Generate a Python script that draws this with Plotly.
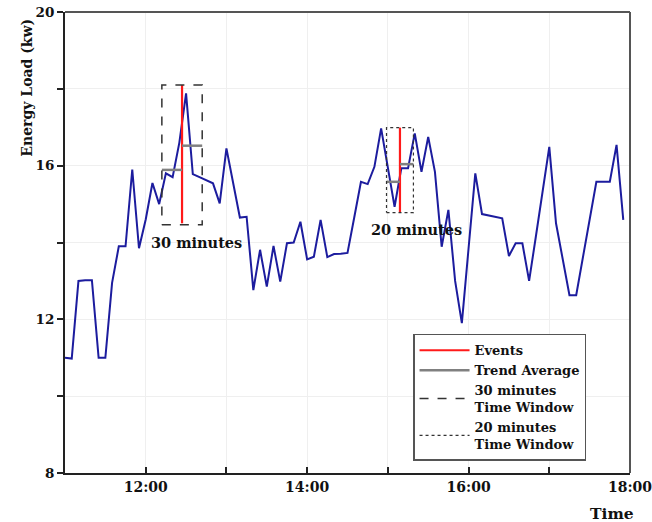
import pandas as pd
import plotly.graph_objects as go

# ---- data ----
start_time = "2020-01-01 11:00"
load_kw = [11.0, 10.98, 13.0, 13.02, 13.02, 11.0, 11.0, 12.95, 13.9, 13.9,
           15.9, 13.85, 14.6, 15.55, 15.0, 15.8, 15.7, 16.6, 17.88, 15.78,
           15.7, 15.62, 15.54, 15.02, 16.45, 15.55, 14.65, 14.67, 12.76, 13.81,
           12.85, 13.91, 12.98, 13.98, 14.0, 14.54, 13.56, 13.63, 14.59, 13.62,
           13.7, 13.71, 13.73, 14.65, 15.58, 15.52, 15.97, 16.97, 15.95, 14.93,
           15.93, 15.93, 16.84, 15.84, 16.75, 15.84, 13.89, 14.85, 13.0, 11.9,
           13.85, 15.8, 14.74, 14.7, 14.67, 14.63, 13.65, 13.98, 13.98, 13.0,
           14.15, 15.3, 16.49, 14.5, 13.6, 12.63, 12.63, 13.6, 14.6, 15.58,
           15.58, 15.58, 16.54, 14.59]
times = pd.date_range(start_time, periods=len(load_kw), freq="5min")

event_times = ["2020-01-01 12:27", "2020-01-01 15:09"]
event_low = [14.5, 14.78]
event_high = [18.1, 16.99]

# 30-minute window
win30_start, win30_end = "2020-01-01 12:12", "2020-01-01 12:42"
win30_low, win30_high = 14.46, 18.1
trend30 = [15.89, 16.52]
# 20-minute window
win20_start, win20_end = "2020-01-01 14:59", "2020-01-01 15:19"
win20_low, win20_high = 14.78, 16.99
trend20 = [15.58, 16.04]

x_tick_vals = ["2020-01-01 %02d:00" % h for h in range(11, 19)]
x_tick_text = ["", "12:00", "", "14:00", "", "16:00", "", "18:00"]
y_tick_vals = [8, 10, 12, 14, 16, 18, 20]
y_tick_text = ["8", "", "12", "", "16", "", "20"]

FONT = "DejaVu Serif"

def bold(labels):
    return ["<b>%s</b>" % t if t else "" for t in labels]

fig = go.Figure()

fig.add_trace(go.Scatter(x=times, y=load_kw, mode="lines",
                         line=dict(color="#1c1c9e", width=2),
                         showlegend=False, hoverinfo="skip"))

# events
ex = [event_times[0], event_times[0], None, event_times[1], event_times[1]]
ey = [event_low[0], event_high[0], None, event_low[1], event_high[1]]
fig.add_trace(go.Scatter(x=ex, y=ey, mode="lines", name="<b>Events</b>",
                         line=dict(color="#ff1a1a", width=2.2)))

# trend averages
tx = [win30_start, event_times[0], None, event_times[0], win30_end, None,
      win20_start, event_times[1], None, event_times[1], win20_end]
ty = [trend30[0], trend30[0], None, trend30[1], trend30[1], None,
      trend20[0], trend20[0], None, trend20[1], trend20[1]]
fig.add_trace(go.Scatter(x=tx, y=ty, mode="lines", name="<b>Trend Average</b>",
                         line=dict(color="#808080", width=2.5)))

# windows
fig.add_trace(go.Scatter(
    x=[win30_start, win30_end, win30_end, win30_start, win30_start],
    y=[win30_low, win30_low, win30_high, win30_high, win30_low],
    mode="lines", name="<b>30 minutes<br>Time Window</b>",
    line=dict(color="#333333", width=1.5, dash="dash")))
fig.add_trace(go.Scatter(
    x=[win20_start, win20_end, win20_end, win20_start, win20_start],
    y=[win20_low, win20_low, win20_high, win20_high, win20_low],
    mode="lines", name="<b>20 minutes<br>Time Window</b>",
    line=dict(color="#333333", width=1.2, dash="dot")))

fig.add_annotation(x="2020-01-01 12:38", y=14.0, text="<b>30 minutes</b>",
                   showarrow=False, font=dict(family=FONT, size=14.5, color="#111"))
fig.add_annotation(x="2020-01-01 15:21", y=14.35, text="<b>20 minutes</b>",
                   showarrow=False, font=dict(family=FONT, size=14.5, color="#111"))

fig.add_annotation(xref="paper", yref="paper", x=-0.068, y=0.835,
                   xanchor="center", yanchor="middle",
                   text="<b>Energy Load (kw)</b>", textangle=-90, showarrow=False,
                   font=dict(family=FONT, size=14, color="#111"))
fig.add_annotation(xref="paper", yref="paper", x=0.968, y=-0.087,
                   xanchor="center", yanchor="middle",
                   text="<b>Time</b>", showarrow=False,
                   font=dict(family=FONT, size=15.5, color="#111"))

fig.update_xaxes(range=["2020-01-01 11:00", "2020-01-01 18:00"],
                 tickvals=x_tick_vals, ticktext=bold(x_tick_text),
                 ticks="inside", ticklen=6, tickcolor="#222", tickwidth=1.5,
                 showline=True, linecolor="#222", linewidth=2, mirror=False,
                 showgrid=True, gridcolor="#efefef", gridwidth=1,
                 tickfont=dict(family=FONT, size=14, color="#111"),
                 ticklabeloverflow="allow",
                 zeroline=False, automargin=False)
fig.update_yaxes(range=[8, 20], tickvals=y_tick_vals, ticktext=bold(y_tick_text),
                 ticks="outside", ticklen=6, tickcolor="#222", tickwidth=1.5,
                 showline=True, linecolor="#222", linewidth=2,
                 showgrid=True, gridcolor="#efefef", gridwidth=1,
                 tickfont=dict(family=FONT, size=13.5, color="#111"),
                 ticklabeloverflow="allow",
                 zeroline=False, automargin=False)

# top and right frame lines
fig.add_shape(type="line", xref="paper", yref="paper", x0=0, x1=1, y0=1, y1=1,
              line=dict(color="#555", width=2))
fig.add_shape(type="line", xref="paper", yref="paper", x0=1, x1=1, y0=0, y1=1,
              line=dict(color="#555", width=2))

fig.update_layout(
    width=652, height=522,
    margin=dict(l=65, r=22, t=12, b=49, autoexpand=False),
    paper_bgcolor="white", plot_bgcolor="white",
    legend=dict(x=0.616, y=0.302, xanchor="left", yanchor="top",
                bgcolor="white", bordercolor="#555", borderwidth=1.5,
                font=dict(family=FONT, size=13, color="#111"),
                tracegroupgap=2, itemwidth=50),
)

fig.write_html("out.html", config={"displayModeBar": False},
               post_script="document.body.style.margin='0';")
